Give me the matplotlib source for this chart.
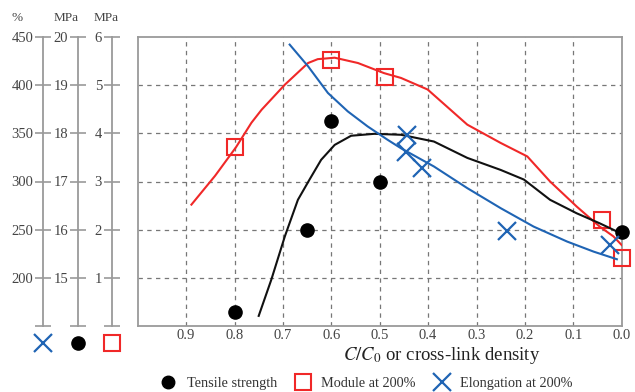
import matplotlib
matplotlib.use("Agg")
import matplotlib.pyplot as plt
from matplotlib.lines import Line2D

plt.rcParams['font.family'] = ['Liberation Serif', 'DejaVu Serif']
plt.rcParams['mathtext.fontset'] = 'stix'

# ---------------- data ----------------
# Tensile strength (MPa) - points
tens_x = [0.80, 0.65, 0.60, 0.50, 0.00]
tens_y = [14.3, 16.0, 18.25, 17.0, 15.95]
# Tensile strength fitted curve
tens_cx = [0.750, 0.724, 0.696, 0.669, 0.645, 0.621, 0.593, 0.559, 0.511, 0.456, 0.388,
           0.319, 0.250, 0.202, 0.148, 0.093, 0.045, 0.003]
tens_cy = [14.21, 14.96, 15.86, 16.62, 17.04, 17.45, 17.76, 17.95, 17.99, 17.97, 17.83,
           17.49, 17.24, 17.04, 16.62, 16.34, 16.13, 15.93]

# Module at 200% (MPa) - points
mod_x = [0.80, 0.60, 0.49, 0.04, 0.0]
mod_y = [3.71, 5.53, 5.17, 2.20, 1.41]
# Module fitted curve
mod_cx = [0.889, 0.84, 0.797, 0.765, 0.744, 0.696, 0.648, 0.628, 0.593, 0.545, 0.491,
          0.456, 0.401, 0.319, 0.250, 0.195, 0.148, 0.093, 0.045, 0.017, 0.0]
mod_cy = [2.52, 3.12, 3.71, 4.22, 4.49, 5.01, 5.46, 5.54, 5.57, 5.46, 5.25,
          5.15, 4.91, 4.18, 3.80, 3.52, 3.00, 2.48, 2.06, 1.86, 1.68]

# Elongation at 200% (%) - points
elo_x = [0.443, 0.446, 0.412, 0.238, 0.024]
elo_y = [348.5, 331.0, 314.0, 249.0, 234.0]
# Elongation fitted curve
elo_cx = [0.686, 0.648, 0.607, 0.566, 0.525, 0.484, 0.456, 0.388, 0.319, 0.250, 0.182,
          0.113, 0.058, 0.010]
elo_cy = [442.1, 419.6, 391.9, 372.8, 357.2, 343.4, 334.5, 315.6, 293.1, 272.3, 253.2,
          237.7, 227.2, 219.3]

x_ticks = [0.9, 0.8, 0.7, 0.6, 0.5, 0.4, 0.3, 0.2, 0.1, 0.0]
elo_ticks = [150, 200, 250, 300, 350, 400, 450]
tens_ticks = [14, 15, 16, 17, 18, 19, 20]
mod_ticks = [0, 1, 2, 3, 4, 5, 6]

legend_labels = ["Tensile strength", "Module at 200%", "Elongation at 200%"]

# ---------------- styles ----------------
RED = '#f02828'
BLUE = '#1f64b4'
BLACK = '#111111'
SPINE = '#9a9a9a'
TXT = '#444444'

W, H = 635, 392
fig = plt.figure(figsize=(W / 100, H / 100), dpi=100)

left, right = 137.7 / W, 621.7 / W
bottom, top = (H - 326) / H, (H - 37) / H
ax = fig.add_axes([left, bottom, right - left, top - bottom])

ax.set_xlim(1.0, 0.0)
ax.set_ylim(0, 6)
ax.set_xticks(x_ticks)
ax.set_xticklabels([f"{v:.1f}" for v in x_ticks], fontsize=10.5, color=TXT)
ax.set_yticks([1, 2, 3, 4, 5])
ax.set_yticklabels([])
ax.tick_params(length=0, pad=2)
ax.grid(True, color='#777777', linestyle=(0, (3.5, 3.5)), linewidth=0.9)
for s in ax.spines.values():
    s.set_color(SPINE)
    s.set_linewidth(1.3)

# overlay axes for the other scales
ax_t = ax.twinx()
ax_t.set_ylim(14, 20)
ax_e = ax.twinx()
ax_e.set_ylim(150, 450)
for a in (ax_t, ax_e):
    a.set_yticks([])
    a.patch.set_visible(False)
    for s in a.spines.values():
        s.set_visible(False)

# curves
ax.plot(mod_cx, mod_cy, color=RED, lw=1.5, zorder=3)
ax_t.plot(tens_cx, tens_cy, color=BLACK, lw=1.5, zorder=3)
ax_e.plot(elo_cx, elo_cy, color=BLUE, lw=1.5, zorder=3)

# points
ax.plot(mod_x, mod_y, ls='none', marker='s', ms=12, mfc='none', mec=RED, mew=1.5,
        zorder=4, clip_on=False)
ax_t.plot(tens_x, tens_y, ls='none', marker='o', ms=9.5, color='black', zorder=4,
          clip_on=False)
ax_e.plot(elo_x, elo_y, ls='none', marker='x', ms=13, mec=BLUE, mew=1.6, zorder=4,
          clip_on=False)

# x label
fig.text(442 / W, 1 - 356 / H, r"$C/C_0$ or cross-link density", ha='center', va='center',
         fontsize=13.5, color='#222222')

# ---------------- left scale axes ----------------
scales = [
    (43.3, elo_ticks, "%", 17, BLUE, 'x'),
    (77.7, tens_ticks, "MPa", 66, 'black', 'o'),
    (111.7, mod_ticks, "MPa", 106, RED, 's'),
]
for xpix, ticks, unit, ux, col, mk in scales:
    sa = fig.add_axes([xpix / W, bottom, 0.0001, top - bottom])
    sa.set_ylim(ticks[0], ticks[-1])
    sa.set_yticks(ticks)
    sa.set_yticklabels([""] + [str(t) for t in ticks[1:]], fontsize=10.5, color=TXT)
    sa.tick_params(axis='y', direction='inout', length=12, width=1.2, color=SPINE, pad=1)
    sa.set_xticks([])
    sa.patch.set_visible(False)
    for k, s in sa.spines.items():
        if k == 'left':
            s.set_color(SPINE)
            s.set_linewidth(1.3)
        else:
            s.set_visible(False)
    fig.text(ux / W, 1 - 18 / H, unit, ha='center', va='center', fontsize=9.5, color=TXT)
    if mk == 'x':
        fig.add_artist(Line2D([xpix / W], [1 - 343 / H], transform=fig.transFigure,
                              marker='x', ms=13, mec=col, mew=1.6, ls='none'))
    elif mk == 'o':
        fig.add_artist(Line2D([xpix / W], [1 - 343 / H], transform=fig.transFigure,
                              marker='o', ms=9.5, color=col, ls='none'))
    else:
        fig.add_artist(Line2D([xpix / W], [1 - 343 / H], transform=fig.transFigure,
                              marker='s', ms=12, mfc='none', mec=col, mew=1.5, ls='none'))

# ---------------- legend ----------------
handles = [
    Line2D([], [], ls='none', marker='o', ms=9, color='black'),
    Line2D([], [], ls='none', marker='s', ms=12, mfc='none', mec=RED, mew=1.5),
    Line2D([], [], ls='none', marker='x', ms=13, mec=BLUE, mew=1.6),
]
fig.legend(handles, legend_labels, loc='center', bbox_to_anchor=(367 / W, 1 - 383 / H),
           ncol=3, frameon=False, fontsize=10.3, handletextpad=0.8, columnspacing=1.3,
           handlelength=1.0, borderpad=0, labelcolor='#333333')

fig.savefig("out.png", dpi=100, facecolor='white')
